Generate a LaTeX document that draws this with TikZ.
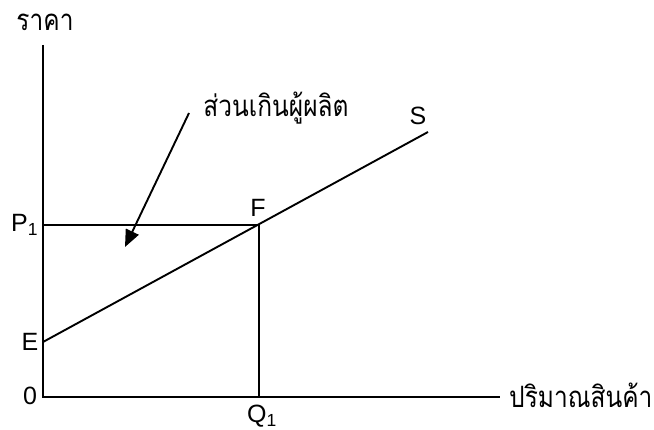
\documentclass[tikz,border=0pt]{standalone}
\usepackage{fontspec}
\setmainfont{Liberation Sans}
\newfontfamily\thaifont[Script=Thai]{Loma}
\usetikzlibrary{arrows.meta}
\newcommand{\thaitxt}[1]{\scalebox{1}[1.2]{#1}}
\begin{document}
\begin{tikzpicture}[x=1pt,y=-1pt,
  axis/.style={line width=1.9pt},
  curve/.style={line width=1.9pt},
  lbl/.style={font=\fontsize{25}{27}\selectfont, inner sep=0pt},
  thai/.style={font=\thaifont\fontsize{24.5}{27}\selectfont, inner sep=0pt}]
\useasboundingbox (0,0) rectangle (654,430);
\coordinate (O) at (43,397);
\coordinate (Ytop) at (43,45);
\coordinate (Xend) at (500,397);
\coordinate (P1) at (43,225);
\coordinate (F) at (259,225);
\coordinate (Q1) at (259,397);
\coordinate (E) at (43,342);
\coordinate (Send) at (428,132);
\coordinate (As) at (189,113);
\coordinate (At) at (125,247);
\draw[axis] (Ytop) -- (O) -- (Xend);
\draw[curve] (P1) -- (F) -- (Q1);
\draw[curve] (E) -- (Send);
\draw[curve,-{Triangle[length=17pt,width=14pt]}] (As) -- (At);
\node[thai] (yl) at (45,22) {\thaitxt{ราคา}};
\node[thai,anchor=west] (xl) at (509,395) {\thaitxt{ปริมาณสินค้า}};
\node[thai] (sl) at (276,108) {\thaitxt{ส่วนเกินผู้ผลิต}};
\node[lbl] (Sl) at (418,116) {S};
\node[lbl] (Fl) at (258,208) {F};
\node[lbl,anchor=west] (Pl) at (11,225) {P\textsubscript{1}};
\node[lbl] (El) at (30,342) {E};
\node[lbl] (Ol) at (30,396) {0};
\node[lbl,anchor=north] (Ql) at (262,405) {Q\textsubscript{1}};
\end{tikzpicture}
\end{document}
